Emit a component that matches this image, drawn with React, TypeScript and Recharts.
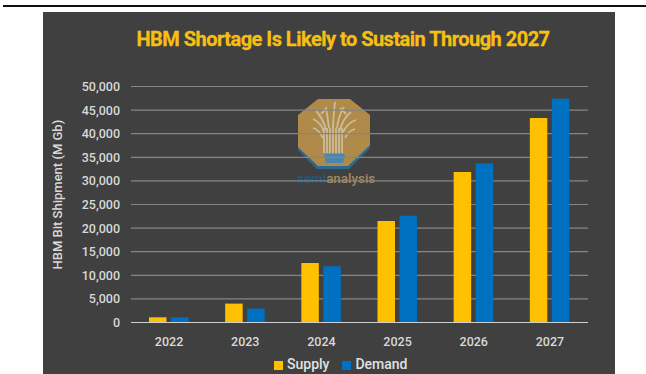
import React from 'react';
import { BarChart, Bar, XAxis, YAxis, CartesianGrid, Legend } from 'recharts';

const years = ['2022', '2023', '2024', '2025', '2026', '2027'];
const supply = [1100, 4000, 12600, 21500, 31900, 43300];
const demand = [1100, 2950, 11900, 22600, 33700, 47400];
const yTicks = [0, 5000, 10000, 15000, 20000, 25000, 30000, 35000, 40000, 45000, 50000];

const rows = years.map((year, i) => ({ year, Supply: supply[i], Demand: demand[i] }));

const FONT = 'Roboto, "Noto Sans", sans-serif';
const TICK_COLOR = '#d9d9d9';

// Tree branches of the watermark, in the logo's own 110x100 box
const branches = [
  'M44 42 C42 35 38 31 33 29',
  'M46 40 C44 32 41 26 36 21',
  'M49 38 C48 30 47 24 46 17',
  'M53 38 C53 30 54 22 55 12',
  'M57 38 C58 30 60 23 64 17',
  'M60 40 C62 32 66 26 71 22',
  'M63 42 C66 36 70 32 76 30',
  'M43 48 C40 42 37 39 33 38',
  'M65 48 C68 42 71 40 75 39',
  'M41 24 L46 19',
  'M66 24 L60 18',
];
const trunk = [44, 47, 50, 53, 56, 59, 62];

const Watermark = () => (
  <svg
    width={110}
    height={100}
    viewBox="0 0 110 100"
    style={{ position: 'absolute', left: 237, top: 78 }}
  >
    <polygon points="18,50 18,60 37,79 69,79 90,58 90,50" fill="#2a6a93" />
    <polygon points="38,9 70,9 90,25 90,55 68,76 38,76 18,57 18,25" fill="#b08a48" />
    <g stroke="#c9bd9f" strokeWidth={1.8} fill="none">
      {branches.map((d) => (
        <path key={d} d={d} />
      ))}
      {trunk.map((x) => (
        <line key={x} x1={x} x2={x} y1={38} y2={63} />
      ))}
    </g>
    <path d="M44 64 H65 L63 73 H46 Z" fill="#4a86ad" />
    <text x={17} y={93} fontFamily={FONT} fontSize={13.4} fontWeight={500}>
      <tspan fill="#1f5a82">semi</tspan>
      <tspan fill="#a78a5a">analysis</tspan>
    </text>
  </svg>
);

const App = () => (
  <div style={{ position: 'absolute', left: 0, top: 0, width: 646, height: 374, background: '#fff', overflow: 'hidden' }}>
    <div style={{ position: 'absolute', left: 3, top: 5, width: 643, height: 2, background: '#111' }} />
    <div style={{ position: 'absolute', left: 43, top: 12, width: 572, height: 362, background: '#404040' }}>
      <Watermark />
      <div
        style={{
          position: 'absolute',
          left: 0,
          top: 14,
          width: 600,
          textAlign: 'center',
          fontFamily: FONT,
          fontWeight: 700,
          fontSize: 20,
          letterSpacing: -0.52,
          lineHeight: '26px',
          color: '#f6bf11',
          WebkitTextStroke: '0.3px #f6bf11',
        }}
      >
        HBM Shortage Is Likely to Sustain Through 2027
      </div>
      <BarChart
        width={572}
        height={362}
        data={rows}
        margin={{ top: 74.5, right: 27, bottom: 0, left: 0 }}
        barSize={17.5}
        barGap={4.5}
        style={{ position: 'absolute', left: 0, top: 0 }}
      >
        <CartesianGrid vertical={false} stroke="#858585" strokeWidth={1.2} />
        <XAxis
          dataKey="year"
          height={35.5}
          axisLine={{ stroke: '#cfcfcf', strokeWidth: 1.2 }}
          tickLine={false}
          tickMargin={9}
          tick={{ fill: TICK_COLOR, fontSize: 12.5, fontWeight: 500, fontFamily: FONT }}
        />
        <YAxis
          width={88}
          domain={[0, 50000]}
          ticks={yTicks}
          interval={0}
          axisLine={false}
          tickLine={false}
          tickMargin={5}
          tickFormatter={(v: number) => v.toLocaleString('en-US')}
          tick={{ fill: TICK_COLOR, fontSize: 12.5, fontWeight: 500, fontFamily: FONT }}
          label={{
            value: 'HBM Bit Shipment (M Gb)',
            angle: -90,
            position: 'insideLeft',
            dx: 9,
            dy: 65,
            fill: TICK_COLOR,
            fontSize: 13,
            fontWeight: 500,
            fontFamily: FONT,
          }}
        />
        <Legend
          verticalAlign="bottom"
          align="left"
          iconType="square"
          iconSize={9}
          itemSorter={null}
          wrapperStyle={{ left: 231, bottom: 2, width: 170, fontFamily: FONT, fontSize: 14, fontWeight: 500 }}
          formatter={(value: string) => <span style={{ color: '#e0e0e0', marginRight: 3 }}>{value}</span>}
        />
        <Bar dataKey="Supply" fill="#ffc000" isAnimationActive={false} />
        <Bar dataKey="Demand" fill="#0070c0" isAnimationActive={false} />
      </BarChart>
    </div>
  </div>
);

export default App;
